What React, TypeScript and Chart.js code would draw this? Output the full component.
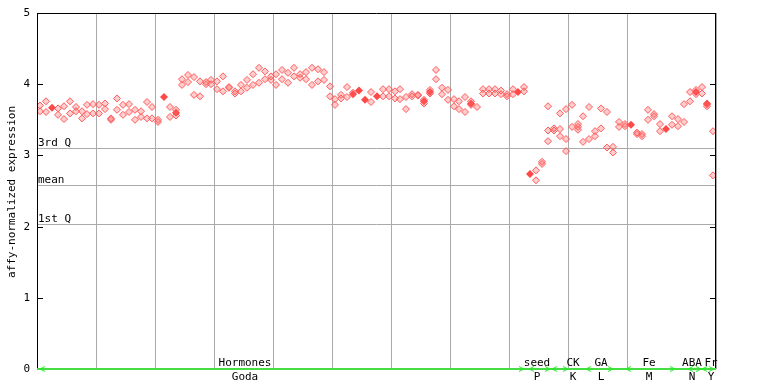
import React, { useEffect, useRef } from "react";
import { Chart, registerables } from "chart.js";
Chart.register(...registerables);

const FONT = '11px "DejaVu Sans Mono", monospace';

// Replicate values per sample (null = no point)
const hiVals: (number | null)[] = [
  3.70, 3.76, null, 3.66, 3.69, 3.76, 3.68, 3.62, 3.71, 3.72,
  3.71, 3.73, 3.52, 3.80, 3.71, 3.72, 3.64, 3.62, 3.75, 3.68,
  3.50, null, 3.68, 3.64, 4.07, 4.13, 4.10, 4.04, 4.03, 4.06,
  4.04, 4.11, 3.96, 3.90, 3.99, 4.06, 4.14, 4.23, 4.18, 4.11,
  4.14, 4.20, 4.16, 4.23, 4.14, 4.17, 4.23, 4.21, 4.17, 3.97,
  3.79, 3.85, 3.96, 3.88, null, null, 3.89, null, 3.93, 3.93,
  3.90, 3.93, 3.82, 3.86, 3.85, 3.78, 3.92, 4.20, 3.95, 3.92,
  3.79, 3.76, 3.82, 3.76, 3.68, 3.93, 3.93, 3.93, 3.91, 3.86,
  3.93, null, 3.96, null, 2.79, 2.91, 3.69, 3.38, 3.59, 3.65,
  3.71, 3.44, 3.55, 3.68, 3.34, 3.66, 3.61, 3.12, 3.47, 3.44,
  null, 3.32, 3.30, 3.64, 3.58, 3.44, null, 3.55, 3.51, 3.72,
  3.89, 3.92, 3.96, 3.73, 3.34,
];
const loVals: (number | null)[] = [
  3.62, 3.61, null, 3.57, 3.51, 3.59, 3.62, 3.52, 3.58, 3.59,
  3.59, 3.65, 3.50, 3.64, 3.57, 3.61, 3.50, 3.54, 3.52, 3.52,
  3.47, null, 3.54, 3.56, 3.99, 4.03, 3.85, 3.83, 4.00, 4.00,
  3.93, 3.90, 3.95, 3.87, 3.90, 3.95, 3.99, 4.02, 4.07, 4.06,
  3.99, 4.07, 4.02, 4.11, 4.09, 4.07, 3.99, 4.04, 4.06, 3.83,
  3.71, 3.80, 3.82, null, null, null, 3.75, null, 3.83, 3.83,
  3.80, 3.79, 3.65, 3.83, 3.84, 3.73, 3.87, 4.07, 3.86, 3.78,
  3.69, 3.65, 3.61, 3.71, null, 3.87, 3.87, 3.87, 3.86, 3.83,
  3.86, null, 3.90, null, 2.65, 2.88, 3.35, 3.35, 3.37, 3.23,
  3.40, 3.40, 3.19, 3.23, 3.27, 3.38, 3.11, 3.04, 3.40, 3.41,
  null, 3.30, 3.27, 3.50, 3.55, 3.34, null, 3.43, 3.41, 3.47,
  3.76, 3.86, 3.87, 3.69, 2.72,
];
const thirdIdx = [86, 88, 89, 91];
const thirdVals = [3.20, 3.27, 3.06, 3.36];
const filledIdx = [2, 21, 23, 53, 54, 55, 57, 65, 66, 73, 81, 83, 100, 106, 111, 113];
const filledVals = [3.67, 3.82, 3.60, 3.86, 3.91, 3.78, 3.83, 3.76, 3.89, 3.73, 3.89, 2.74, 3.43, 3.37, 3.89, 3.72];

const yTicks = [0, 1, 2, 3, 4, 5];
const qLabels = ["3rd Q", "mean", "1st Q"];
const qValues = [3.10, 2.58, 2.04];

const groupTop = ["Hormones", "seed", "CK", "GA", "Fe", "ABA", "Fr"];
const groupBottom = ["Goda", "P", "K", "L", "M", "N", "Y"];
const groupStart = [0.5, 83.4, 87.3, 93.0, 99.7, 110.2, 112.7];
const groupEnd = [82.4, 86.9, 90.0, 97.5, 108.1, 112.4, 114.6];
const groupLabelAt = [35.25, 84.7, 90.8, 95.6, 103.7, 110.9, 114.2];

const X_OFF = 0.55;
const RED = "#ff5a5a";

function pts(vals: (number | null)[]) {
  const out: { x: number; y: number }[] = [];
  vals.forEach((v, i) => {
    if (v !== null) out.push({ x: i + X_OFF, y: v });
  });
  return out;
}
function ptsIdx(idx: number[], vals: number[]) {
  return idx.map((i, k) => ({ x: i + X_OFF, y: vals[k] }));
}

const decor = {
  id: "decor",
  beforeDatasetsDraw(chart: any) {
    const { ctx, chartArea: a, scales } = chart;
    const y = scales.y;
    ctx.save();
    ctx.lineWidth = 1;
    ctx.strokeStyle = "#aaaaaa";
    ctx.font = FONT;
    ctx.fillStyle = "#000";
    ctx.textAlign = "left";
    ctx.textBaseline = "alphabetic";
    qValues.forEach((v, i) => {
      const py = Math.round(y.getPixelForValue(v)) + 0.5;
      ctx.beginPath();
      ctx.moveTo(a.left, py);
      ctx.lineTo(a.right, py);
      ctx.stroke();
      ctx.fillText(qLabels[i], a.left + 1, py - 3);
    });
    ctx.restore();
  },
  afterDraw(chart: any) {
    const { ctx, chartArea: a, scales } = chart;
    const x = scales.x;
    const y = scales.y;
    ctx.save();
    ctx.strokeStyle = "#000";
    ctx.lineWidth = 1;
    ctx.beginPath();
    ctx.moveTo(a.left + 0.5, a.bottom);
    ctx.lineTo(a.left + 0.5, a.top + 0.5);
    ctx.lineTo(a.right - 0.5, a.top + 0.5);
    ctx.lineTo(a.right - 0.5, a.bottom);
    ctx.stroke();
    ctx.font = FONT;
    ctx.fillStyle = "#000";
    ctx.textAlign = "right";
    ctx.textBaseline = "middle";
    yTicks.forEach((v) => {
      const py = Math.round(y.getPixelForValue(v)) + 0.5;
      ctx.beginPath();
      ctx.moveTo(a.left, py);
      ctx.lineTo(a.left + 6, py);
      ctx.moveTo(a.right - 6, py);
      ctx.lineTo(a.right, py);
      ctx.stroke();
      ctx.fillText(String(v), 30, py);
    });
    ctx.save();
    ctx.translate(12, 192);
    ctx.rotate(-Math.PI / 2);
    ctx.textAlign = "center";
    ctx.textBaseline = "middle";
    ctx.fillText("affy-normalized expression", 0, 0);
    ctx.restore();
    const gy = Math.round(y.getPixelForValue(0));
    ctx.fillStyle = "#44dd44";
    ctx.fillRect(a.left, gy - 1, a.right - a.left, 2);
    ctx.strokeStyle = "#22ee22";
    ctx.lineWidth = 1;
    groupStart.forEach((s, i) => {
      const xs = x.getPixelForValue(s);
      const xe = x.getPixelForValue(groupEnd[i]);
      ctx.beginPath();
      ctx.moveTo(xs + 5, gy - 2.5);
      ctx.lineTo(xs, gy);
      ctx.lineTo(xs + 5, gy + 2.5);
      ctx.moveTo(xe - 5, gy - 2.5);
      ctx.lineTo(xe, gy);
      ctx.lineTo(xe - 5, gy + 2.5);
      ctx.stroke();
    });
    ctx.fillStyle = "#000";
    ctx.font = FONT;
    ctx.textAlign = "center";
    ctx.textBaseline = "alphabetic";
    groupLabelAt.forEach((c, i) => {
      const px = x.getPixelForValue(c);
      ctx.fillText(groupTop[i], px, gy - 3);
      ctx.fillText(groupBottom[i], px, gy + 11);
    });
    ctx.restore();
  },
};

export default function App() {
  const ref = useRef<HTMLCanvasElement>(null);
  useEffect(() => {
    const canvas = ref.current!;
    const hollow = {
      pointStyle: "rectRot",
      pointRadius: 3.5,
      pointBorderWidth: 1,
      pointBorderColor: RED,
      pointBackgroundColor: "rgba(255,90,90,0.3)",
      showLine: false,
    };
    const chart = new Chart(canvas, {
      type: "scatter",
      data: {
        datasets: [
          { data: pts(hiVals), ...hollow } as any,
          { data: pts(loVals), ...hollow } as any,
          { data: ptsIdx(thirdIdx, thirdVals), ...hollow } as any,
          {
            data: ptsIdx(filledIdx, filledVals),
            pointStyle: "rectRot",
            pointRadius: 4,
            pointBorderWidth: 0,
            pointBackgroundColor: "#ff4848",
            showLine: false,
          } as any,
        ],
      },
      options: {
        responsive: false,
        animation: false,
        devicePixelRatio: 1,
        layout: { padding: { top: 13, right: 52, left: 0, bottom: 0 } },
        plugins: { legend: { display: false }, tooltip: { enabled: false } },
        scales: {
          x: {
            type: "linear",
            min: 0,
            max: 115,
            alignToPixels: true,
            ticks: { display: false, stepSize: 10 },
            grid: { color: "#aaaaaa", drawTicks: false, lineWidth: 1 },
            border: { display: false },
            afterFit: (s: any) => {
              s.height = 15;
            },
          },
          y: {
            type: "linear",
            min: 0,
            max: 5,
            ticks: { display: false },
            grid: { display: false },
            border: { display: false },
            afterFit: (s: any) => {
              s.width = 37;
            },
          },
        },
      } as any,
      plugins: [decor],
    });
    return () => chart.destroy();
  }, []);
  return (
    <div style={{ position: "absolute", left: 0, top: 0, width: 768, height: 384, background: "#fff" }}>
      <canvas ref={ref} width={768} height={384} style={{ display: "block" }} />
    </div>
  );
}
